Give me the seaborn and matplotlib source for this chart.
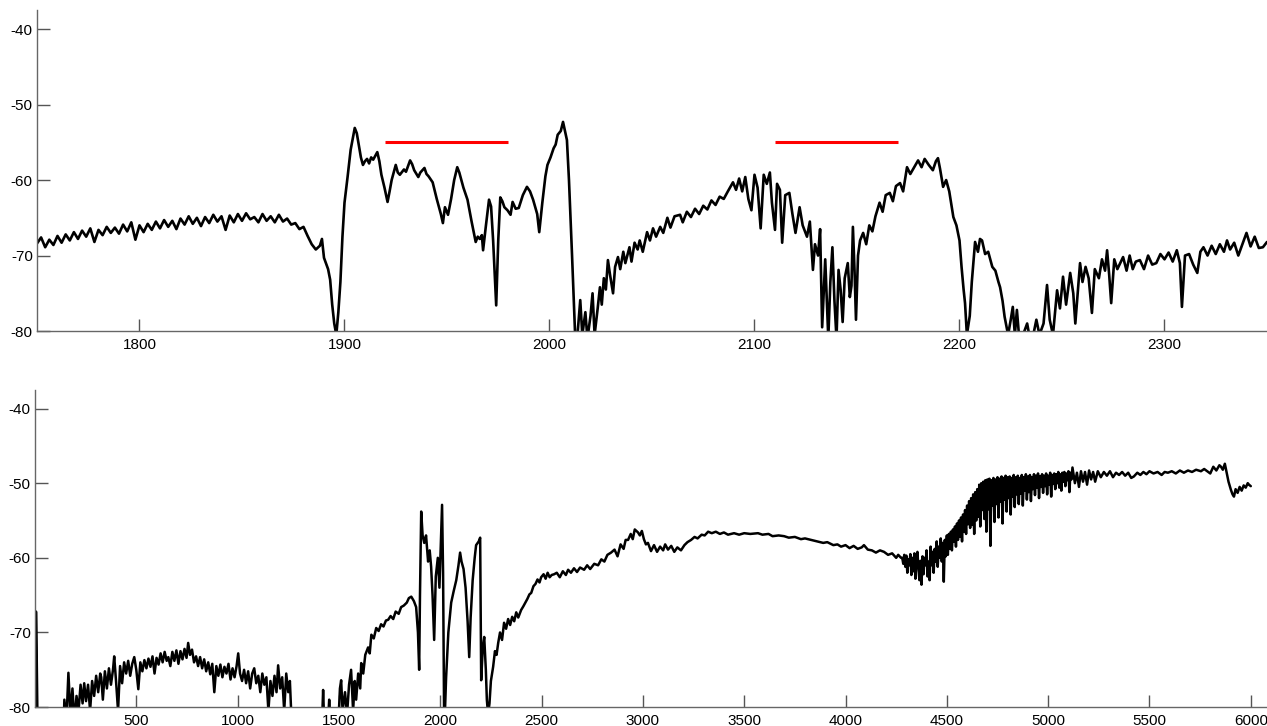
import numpy as np
import pandas as pd
import matplotlib
matplotlib.use("Agg")
import matplotlib.pyplot as plt
import seaborn as sns

# --- zoomed spectrum (top panel) ---
top_freq = [
    1750, 1752, 1754, 1756, 1758, 1760, 1762, 1764, 1766, 1768, 1770, 1772, 1774, 1776, 1778,
    1780, 1782, 1784, 1786, 1788, 1790, 1792, 1794, 1796, 1798, 1800, 1802, 1804, 1806, 1808,
    1810, 1812, 1814, 1816, 1818, 1820, 1822, 1824, 1826, 1828, 1830, 1832, 1834, 1836, 1838,
    1840, 1842, 1844, 1846, 1848, 1850, 1852, 1854, 1856, 1858, 1860, 1862, 1864, 1866, 1868,
    1870, 1872, 1874, 1876, 1878, 1880, 1882, 1884, 1886, 1888, 1889, 1890, 1892, 1893, 1894,
    1895, 1896, 1897, 1898, 1899, 1900, 1901.5, 1903, 1905, 1906, 1908, 1909, 1910, 1911, 1912,
    1913, 1914, 1916, 1917, 1918, 1919.5, 1921, 1922, 1923, 1925, 1926, 1927, 1929, 1930, 1932,
    1933, 1934, 1936, 1937, 1939, 1940, 1941, 1943, 1945, 1947, 1948, 1949, 1950.5, 1952, 1953.5,
    1955, 1956, 1958, 1960, 1962, 1964, 1965, 1966, 1967, 1967.6, 1969, 1970.5, 1971.5, 1972.5, 1973.2,
    1974, 1975, 1976, 1977, 1978, 1979.5, 1981, 1982, 1983.5, 1985, 1987, 1989, 1990.5, 1992, 1994,
    1995, 1996.5, 1998, 1999, 2000.5, 2002, 2003, 2004, 2005.5, 2006.6, 2008.5, 2009.5, 2011, 2012.5, 2013.5,
    2015, 2016, 2017.5, 2018.5, 2020, 2021, 2022, 2023.5, 2024.6, 2025.5, 2026.5, 2027.5, 2028.5, 2029.5, 2031,
    2032, 2033.4, 2034.5, 2036, 2037, 2039, 2040, 2041.5, 2043, 2044, 2045.5, 2047.6, 2049, 2050.5, 2052,
    2054, 2055.5, 2057.5, 2059, 2061, 2063.7, 2065, 2067, 2069, 2071, 2073, 2075, 2077, 2079, 2081,
    2083, 2085, 2087, 2089.5, 2091, 2092.5, 2094, 2095.5, 2097, 2098.5, 2100, 2101.5, 2103, 2104.5, 2106,
    2107.5, 2108.5, 2110, 2111, 2112.4, 2113.5, 2115, 2117, 2118.5, 2120, 2122, 2123.5, 2125.6, 2127, 2128.5,
    2129.5, 2131, 2132, 2133, 2134.5, 2136, 2137, 2138, 2139, 2140, 2141, 2142, 2143, 2144, 2145.5,
    2146.5, 2147.3, 2148, 2148.8, 2149.5, 2150.5, 2151.5, 2153, 2154.5, 2156, 2157.5, 2159, 2161, 2162.5, 2164,
    2166, 2167.5, 2169, 2171, 2172.5, 2174.4, 2176, 2177.5, 2179.8, 2181.5, 2183, 2185, 2187, 2188.5, 2189.5,
    2190.5, 2192, 2193.5, 2195, 2197, 2198.5, 2200, 2201, 2202, 2202.7, 2203.6, 2205, 2206, 2207.6, 2209,
    2210, 2211, 2212.5, 2214, 2216, 2217.5, 2219, 2219.8, 2221, 2222, 2223.7, 2225, 2226, 2227, 2228,
    2229, 2231, 2233, 2234, 2236, 2237.5, 2239, 2241, 2242.7, 2244, 2245.6, 2247.6, 2249, 2250.5, 2252,
    2254, 2255.5, 2256.5, 2258.8, 2260, 2261.5, 2263, 2264.6, 2266, 2268, 2269.5, 2271, 2272, 2273, 2274,
    2275.5, 2277, 2279.8, 2281.5, 2283, 2284.5, 2286, 2288, 2290, 2292, 2294, 2296, 2298, 2300, 2302,
    2304, 2306, 2307.5, 2308.5, 2310, 2312, 2314, 2316, 2317.5, 2319, 2321, 2323, 2325, 2327, 2329,
    2330.5, 2332, 2334, 2336, 2338, 2340, 2342, 2344, 2346, 2348, 2350,
]
top_level = [
    -68.4, -67.6, -68.9, -67.9, -68.6, -67.4, -68.3, -67.2, -68.0, -66.9, -67.8, -66.7, -67.5, -66.4, -68.2,
    -66.6, -67.3, -66.2, -67.0, -66.3, -67.1, -65.9, -66.8, -65.6, -67.9, -66.0, -66.9, -65.8, -66.6, -65.5,
    -66.4, -65.3, -66.2, -65.4, -66.5, -65.1, -65.9, -64.8, -65.8, -65.0, -66.1, -64.9, -65.7, -64.6, -65.5,
    -64.8, -66.6, -64.7, -65.6, -64.5, -65.4, -64.4, -65.2, -64.9, -65.6, -64.5, -65.4, -64.8, -65.6, -64.6,
    -65.5, -65.1, -65.9, -65.7, -66.5, -66.2, -67.4, -68.5, -69.2, -68.7, -67.8, -70.3, -71.8, -73.2, -76.5,
    -79.0, -80.5, -77.5, -73.5, -67.5, -63.0, -59.6, -56.0, -53.1, -53.8, -57.0, -58.0, -57.5, -57.2, -57.8,
    -57.0, -57.3, -56.3, -57.5, -59.3, -61.0, -62.9, -61.5, -60.0, -58.0, -59.0, -59.3, -58.6, -58.9, -57.4,
    -57.9, -58.7, -59.6, -59.0, -58.4, -59.2, -59.5, -60.3, -62.5, -64.5, -65.7, -63.6, -64.6, -62.5, -60.0,
    -58.3, -59.0, -61.0, -62.6, -65.5, -68.2, -67.5, -67.8, -67.3, -69.3, -66.0, -62.6, -63.5, -68.0, -72.0,
    -76.6, -68.0, -62.3, -62.8, -63.6, -64.0, -64.6, -62.9, -63.8, -63.7, -62.0, -60.9, -61.5, -62.6, -64.5,
    -66.9, -63.0, -59.5, -58.0, -57.0, -55.8, -55.3, -54.0, -53.5, -52.3, -54.7, -60.0, -70.0, -80.5, -81.0,
    -75.9, -80.5, -77.5, -81.0, -78.0, -75.0, -80.5, -77.0, -74.2, -76.5, -73.0, -74.5, -70.6, -72.5, -75.0,
    -71.5, -70.2, -71.8, -69.5, -71.0, -68.9, -70.8, -68.3, -69.2, -68.0, -69.5, -66.9, -68.0, -66.4, -67.5,
    -66.2, -67.0, -65.0, -66.3, -64.8, -64.6, -65.6, -64.2, -64.9, -63.8, -64.5, -63.4, -63.9, -62.7, -63.3,
    -62.2, -62.5, -61.5, -60.3, -61.3, -59.8, -61.5, -59.6, -62.5, -64.0, -59.3, -61.0, -66.4, -59.3, -60.5,
    -59.0, -63.0, -66.6, -60.5, -61.3, -68.3, -62.0, -61.7, -64.5, -67.0, -63.6, -66.0, -67.5, -65.5, -71.9,
    -68.5, -70.0, -66.5, -79.5, -70.5, -81.0, -73.5, -68.9, -76.0, -81.0, -71.9, -74.5, -78.8, -73.0, -71.0,
    -75.5, -74.0, -66.2, -72.0, -78.5, -70.0, -68.0, -67.0, -68.5, -66.0, -66.8, -64.8, -63.0, -64.2, -62.0,
    -61.7, -62.8, -60.8, -60.4, -61.5, -58.3, -59.2, -58.5, -57.4, -58.3, -57.2, -58.0, -58.7, -57.5, -57.1,
    -58.5, -60.9, -60.0, -61.5, -64.9, -66.0, -68.0, -71.5, -74.5, -76.3, -80.5, -78.0, -73.5, -68.2, -69.5,
    -67.8, -68.0, -69.8, -69.5, -71.5, -72.0, -73.5, -74.2, -76.0, -78.1, -80.5, -78.5, -76.8, -80.5, -77.2,
    -80.5, -80.5, -79.0, -80.5, -80.5, -78.5, -80.5, -79.0, -73.9, -78.5, -80.5, -74.6, -77.0, -72.8, -76.5,
    -72.3, -75.0, -79.0, -71.0, -73.5, -71.5, -73.0, -77.6, -71.8, -73.0, -70.5, -72.0, -69.3, -72.5, -76.3,
    -70.5, -71.8, -70.2, -72.0, -70.0, -71.8, -70.8, -70.6, -71.8, -70.0, -71.2, -71.0, -69.8, -70.5, -69.6,
    -70.8, -69.3, -71.0, -76.8, -70.0, -69.8, -71.2, -72.3, -69.5, -68.9, -70.0, -68.7, -69.8, -68.5, -69.5,
    -68.0, -69.2, -68.3, -70.0, -68.5, -67.0, -68.8, -67.5, -69.0, -68.9, -68.2,
]

# --- red marker bands in the zoomed panel ---
band_start = [1920, 2110]
band_end = [1980, 2170]
band_level = [-55, -55]

# --- full-range spectrum (bottom panel), in three pieces ---
full_freq_low = [
    3, 5, 8, 12, 20, 140, 145, 155, 165, 175, 185, 195, 205, 215, 225, 235, 243, 252, 262, 272,
    282, 292, 302, 312, 322, 327, 335, 345, 355, 365, 375, 385, 391, 400, 410, 420, 430, 440, 450, 460,
    470, 480, 490, 500, 510, 520, 530, 540, 550, 560, 570, 580, 590, 600, 610, 620, 630, 640, 650, 658,
    668, 678, 688, 698, 708, 718, 728, 738, 748, 756, 765, 775, 785, 795, 805, 815, 825, 835, 845, 855,
    865, 875, 885, 895, 905, 915, 925, 935, 945, 955, 965, 975, 985, 995, 1003, 1012, 1022, 1032, 1042, 1052,
    1062, 1072, 1082, 1092, 1102, 1112, 1122, 1132, 1142, 1152, 1162, 1172, 1182, 1192, 1200, 1210, 1220, 1230, 1240, 1250,
    1258, 1265, 1275, 1410, 1418, 1422, 1426, 1440, 1448, 1452, 1456, 1490, 1500, 1505, 1511, 1518, 1530, 1540, 1550, 1560,
    1570, 1578, 1585, 1595, 1605, 1610, 1620, 1630, 1644, 1652, 1660, 1672, 1684, 1696, 1708, 1720, 1732, 1743, 1755, 1768,
    1780, 1795, 1807, 1820, 1835, 1845, 1857, 1870, 1881, 1890, 1896, 1900, 1906, 1913, 1921, 1930, 1940, 1948, 1955, 1962,
    1970, 1978, 1988, 1996, 2003, 2009, 2014, 2019, 2024, 2029, 2040, 2054, 2066, 2079, 2090, 2098, 2105, 2115, 2125, 2135,
    2143, 2150, 2160, 2170, 2177, 2190, 2197, 2202, 2210, 2217, 2225, 2230, 2236, 2243, 2250, 2261, 2270, 2278, 2286, 2295,
    2305, 2315, 2325, 2335, 2345, 2355, 2365, 2375, 2385, 2399, 2410, 2420, 2430, 2440, 2449, 2460, 2470, 2480, 2490, 2498,
    2510, 2520, 2530, 2540, 2550, 2562, 2575, 2590, 2605, 2620, 2631, 2645, 2660, 2675, 2690, 2710, 2725, 2740, 2760, 2779,
    2795, 2810, 2825, 2843, 2860, 2875, 2890, 2905, 2915, 2927, 2940, 2950, 2960, 2976, 2985, 2995, 3005, 3015, 3025, 3040,
    3055, 3070, 3085, 3100, 3110, 3124, 3140, 3155, 3170, 3188, 3205, 3220, 3238, 3255, 3270, 3290, 3305, 3322, 3340, 3360,
    3380, 3400, 3420, 3450, 3475, 3500, 3530, 3568, 3590, 3620, 3640, 3670, 3697, 3720, 3750, 3780, 3800, 3830, 3860, 3890,
    3910, 3940, 3960, 3978, 4000, 4020, 4040, 4060, 4080, 4091, 4110, 4130, 4150, 4170, 4190, 4210, 4230, 4250, 4260, 4274,
]
full_level_low = [
    -81.0, -67.2, -72.0, -81.0, -84.0, -84.0, -79.0, -82.0, -75.4, -81.0, -77.5, -82.0, -78.5, -80.5, -77.0, -79.5, -76.8, -79.2, -77.0, -80.5,
    -76.5, -78.5, -75.8, -78.0, -75.5, -76.0, -79.0, -75.2, -77.5, -74.8, -77.0, -75.0, -73.2, -76.5, -80.5, -74.5, -76.8, -74.0, -75.5, -73.8,
    -75.8, -74.2, -73.3, -75.0, -77.6, -74.0, -75.2, -73.7, -74.8, -73.5, -74.6, -73.2, -75.5, -73.4, -74.3, -72.8, -74.0, -72.6, -73.8, -73.3,
    -74.5, -72.6, -73.8, -72.4, -74.2, -72.5, -73.6, -72.2, -73.4, -71.4, -73.0, -72.3, -74.0, -73.2, -74.5, -73.3, -74.8, -73.6, -75.2, -74.0,
    -75.6, -74.2, -78.0, -74.5, -75.8, -74.3, -76.0, -74.6, -75.5, -74.2, -76.3, -74.8, -76.0, -74.5, -72.8, -75.5, -76.5, -75.0, -76.8, -75.2,
    -77.5, -75.5, -74.8, -76.8, -75.8, -78.0, -75.5, -77.0, -76.0, -80.5, -76.5, -78.5, -75.8, -78.0, -74.4, -77.5, -76.0, -80.5, -75.5, -78.0,
    -76.5, -81.0, -84.0, -84.0, -81.0, -77.7, -81.0, -84.0, -81.0, -79.0, -81.0, -84.0, -80.5, -77.5, -76.4, -80.5, -78.0, -81.0, -77.0, -75.0,
    -80.5, -76.5, -79.0, -75.5, -77.5, -74.1, -75.5, -73.0, -72.0, -72.8, -70.3, -70.8, -69.4, -69.8, -68.9, -69.2, -68.4, -68.3, -67.8, -68.2,
    -67.2, -67.5, -66.6, -66.4, -66.0, -65.4, -65.2, -65.8, -66.6, -70.0, -75.0, -65.0, -53.8, -57.0, -58.0, -57.0, -60.5, -59.0, -61.2, -65.0,
    -71.0, -62.5, -60.0, -64.0, -58.0, -52.9, -62.0, -81.0, -80.0, -76.0, -70.0, -66.0, -64.5, -63.0, -61.0, -59.3, -60.5, -61.5, -64.0, -68.5,
    -73.3, -68.0, -63.0, -60.0, -58.3, -57.8, -57.3, -76.4, -72.0, -70.6, -75.0, -79.0, -81.0, -79.5, -76.5, -74.6, -72.5, -73.0, -71.4, -70.0,
    -71.0, -68.7, -69.5, -68.2, -69.0, -67.9, -68.5, -67.3, -68.0, -67.0, -66.5, -66.0, -65.5, -64.9, -64.7, -63.8, -63.5, -62.9, -63.3, -62.6,
    -62.2, -62.8, -62.0, -62.6, -62.3, -62.2, -62.0, -62.6, -61.8, -62.3, -61.6, -62.0, -61.4, -61.9, -61.3, -61.6, -61.0, -61.5, -60.8, -61.0,
    -60.2, -60.5, -59.6, -59.3, -58.9, -59.8, -58.2, -58.8, -57.6, -57.6, -56.8, -57.5, -56.2, -56.6, -57.0, -56.4, -57.5, -58.2, -58.0, -59.1,
    -58.3, -59.2, -58.5, -59.0, -58.2, -58.9, -58.4, -59.2, -58.6, -59.0, -58.3, -57.9, -57.6, -57.2, -57.4, -56.9, -57.0, -56.5, -56.7, -56.5,
    -56.8, -56.6, -56.9, -56.7, -56.9, -56.7, -56.8, -56.7, -56.9, -56.8, -57.1, -57.0, -57.1, -57.3, -57.2, -57.5, -57.4, -57.6, -57.8, -58.0,
    -57.9, -58.3, -58.2, -58.5, -58.3, -58.7, -58.4, -58.8, -58.6, -58.3, -58.9, -59.0, -59.3, -59.0, -59.2, -59.6, -59.4, -60.0, -59.6, -60.0,
]
full_freq_band = [
    4280, 4285, 4290, 4295, 4300, 4305, 4310, 4315, 4320, 4325,
    4330, 4335, 4340, 4345, 4350, 4355, 4360, 4365, 4370, 4375,
    4380, 4385, 4390, 4395, 4400, 4405, 4410, 4415, 4420, 4425,
    4430, 4435, 4440, 4445, 4450, 4455, 4460, 4465, 4470, 4475,
    4480, 4485, 4490, 4495, 4500, 4505, 4510, 4515, 4520, 4525,
    4530, 4535, 4540, 4545, 4550, 4555, 4560, 4565, 4570, 4575,
    4580, 4585, 4590, 4595, 4600, 4605, 4610, 4615, 4620, 4625,
    4630, 4635, 4640, 4645, 4650, 4655, 4660, 4665, 4670, 4675,
    4680, 4685, 4690, 4695, 4700, 4705, 4710, 4715, 4720, 4725,
    4730, 4735, 4740, 4745, 4750, 4755, 4760, 4765, 4770, 4775,
    4780, 4785, 4790, 4795, 4800, 4805, 4810, 4815, 4820, 4825,
    4830, 4835, 4840, 4845, 4850, 4855, 4860, 4865, 4870, 4875,
    4880, 4885, 4890, 4895, 4900, 4905, 4910, 4915, 4920, 4925,
    4930, 4935, 4940, 4945, 4950, 4955, 4960, 4965, 4970, 4975,
    4980, 4985, 4990, 4995, 5000, 5005, 5010, 5015, 5020, 5025,
    5030, 5035, 5040, 5045, 5050, 5055, 5060, 5065, 5070, 5075,
    5080, 5085, 5090, 5095, 5100, 5105, 5110, 5115, 5120,
]
full_level_band = [
    -60.0, -60.8, -59.6, -61.2, -59.7, -62.0, -60.2, -61.0, -59.5, -62.3,
    -60.0, -61.8, -59.4, -62.8, -60.3, -59.2, -61.5, -63.0, -60.4, -63.6,
    -59.8, -62.2, -60.0, -61.0, -59.0, -62.5, -60.5, -63.0, -58.5, -61.0,
    -59.2, -62.0, -58.8, -60.5, -57.8, -61.2, -58.5, -60.0, -57.4, -60.5,
    -58.0, -63.2, -57.6, -59.8, -57.0, -59.6, -56.8, -58.8, -56.5, -59.0,
    -56.2, -57.8, -55.8, -58.5, -55.4, -57.6, -55.0, -57.2, -54.6, -57.8,
    -54.2, -56.5, -53.6, -56.8, -53.0, -55.5, -52.4, -56.0, -52.0, -55.6,
    -51.5, -56.8, -51.2, -55.0, -50.8, -54.5, -50.2, -55.8, -50.0, -53.6,
    -49.8, -54.8, -49.6, -56.5, -49.5, -53.5, -49.4, -58.4, -49.6, -53.0,
    -49.3, -55.2, -49.5, -52.8, -49.2, -54.6, -49.4, -52.5, -49.1, -55.4,
    -49.3, -52.2, -49.0, -53.8, -49.2, -52.0, -49.1, -54.2, -49.3, -51.8,
    -48.9, -53.2, -49.2, -51.5, -49.0, -52.8, -49.3, -51.4, -48.9, -53.0,
    -49.2, -51.0, -48.8, -52.2, -49.1, -51.2, -48.9, -52.4, -49.2, -50.8,
    -48.8, -51.6, -49.0, -50.6, -48.7, -52.0, -49.1, -50.5, -48.8, -51.3,
    -49.0, -50.4, -48.7, -51.5, -49.0, -50.2, -48.6, -51.8, -48.9, -50.1,
    -48.7, -50.8, -48.8, -50.0, -48.5, -50.6, -48.8, -51.0, -48.6, -49.8,
    -48.5, -50.4, -48.7, -49.6, -48.4, -51.2, -48.6, -49.5, -47.9,
]
full_freq_high = [
    5132, 5142, 5152, 5162, 5172, 5182, 5192, 5202, 5212, 5222, 5232, 5245, 5260, 5275, 5290,
    5305, 5320, 5335, 5350, 5365, 5380, 5395, 5410, 5423, 5440, 5455, 5470, 5485, 5500, 5520,
    5540, 5560, 5575, 5591, 5610, 5630, 5650, 5670, 5690, 5710, 5730, 5754, 5770, 5785, 5800,
    5815, 5830, 5845, 5853, 5862, 5872, 5880, 5890, 5902, 5910, 5917, 5925, 5935, 5945, 5955,
    5965, 5975, 5985, 5991, 6000,
]
full_level_high = [
    -50.0, -48.6, -50.5, -48.4, -49.8, -48.5, -50.2, -48.3, -49.5, -48.5, -49.8, -48.4, -49.2, -48.5, -49.0,
    -48.4, -49.2, -48.6, -48.9, -48.5, -49.0, -48.6, -49.3, -49.1, -48.6, -48.9, -48.5, -48.8, -48.4, -48.7,
    -48.5, -48.9, -48.5, -48.6, -48.4, -48.7, -48.3, -48.6, -48.3, -48.5, -48.2, -48.4, -48.1, -48.4, -48.7,
    -47.8, -48.3, -47.6, -47.8, -48.2, -47.4, -48.5, -49.8, -50.9, -51.5, -51.8, -50.8, -51.3, -50.5, -51.0,
    -50.3, -50.6, -50.0, -50.2, -50.4,
]

yticks = [-80, -70, -60, -50, -40]
top_xticks = [1800, 1900, 2000, 2100, 2200, 2300]
full_xticks = [500, 1000, 1500, 2000, 2500, 3000, 3500, 4000, 4500, 5000, 5500, 6000]

sns.set_style("ticks")
plt.rcParams["font.family"] = ["Liberation Sans", "DejaVu Sans"]
plt.rcParams["axes.unicode_minus"] = False

top_df = pd.DataFrame({"freq": top_freq, "level": top_level})
full_df = pd.DataFrame({
    "freq": full_freq_low + full_freq_band + full_freq_high,
    "level": full_level_low + full_level_band + full_level_high,
})

fig = plt.figure(figsize=(12.67, 7.26), dpi=100)
ax1 = fig.add_axes([0.0292, 0.544, 0.9708, 0.442])
ax2 = fig.add_axes([0.0276, 0.026, 0.9724, 0.437])

sns.lineplot(data=top_df, x="freq", y="level", ax=ax1, color="black",
             linewidth=1.9, estimator=None, sort=False)
ax1.hlines(band_level, band_start, band_end, colors="red", linewidth=2.2)
ax1.set_xlim(1750, 2350)
ax1.set_xticks(top_xticks)

sns.lineplot(data=full_df, x="freq", y="level", ax=ax2, color="black",
             linewidth=1.8, estimator=None, sort=False)
ax2.set_xlim(0, 6080)
ax2.set_xticks(full_xticks)

for ax in (ax1, ax2):
    ax.set_ylim(-80, -37.5)
    ax.set_yticks(yticks)
    ax.set_xlabel("")
    ax.set_ylabel("")
    sns.despine(ax=ax)
    for side in ("left", "bottom"):
        ax.spines[side].set_color("#666666")
        ax.spines[side].set_linewidth(1.0)
    ax.tick_params(axis="both", direction="in", length=9, width=1.0,
                   color="#555555", labelsize=11, labelcolor="black")
    ax.tick_params(axis="x", pad=5)
    ax.tick_params(axis="y", pad=3)

fig.savefig("out.png", dpi=100)
